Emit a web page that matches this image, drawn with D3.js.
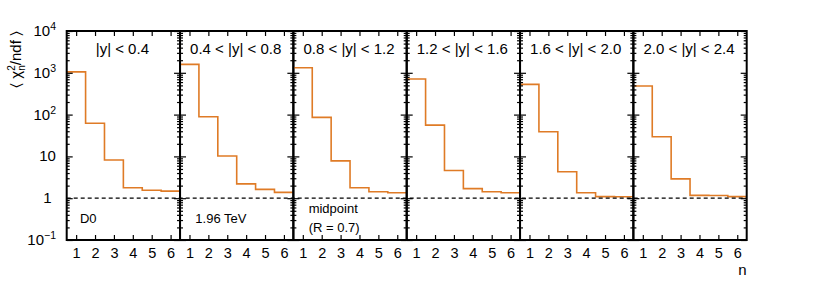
<!DOCTYPE html>
<html>
<head>
<meta charset="utf-8">
<script src="https://cdn.jsdelivr.net/npm/d3@7"></script>
<style>
  body { margin: 0; background: #fff; }
  text { font-family: "Liberation Sans", Arial, Helvetica, sans-serif; fill: #000; }
</style>
</head>
<body>
<div id="chart"></div>
<script>
// rapidity bins and mean chi2/ndf per n
const panelLabels = ["|y| < 0.4", "0.4 < |y| < 0.8", "0.8 < |y| < 1.2",
                     "1.2 < |y| < 1.6", "1.6 < |y| < 2.0", "2.0 < |y| < 2.4"];
const nValues = [1, 2, 3, 4, 5, 6];
const chiY04 = [1050, 62, 8.2, 1.78, 1.55, 1.48];
const chiY08 = [1590, 89, 10.2, 2.2, 1.63, 1.38];
const chiY12 = [1320, 86, 7.8, 1.78, 1.43, 1.35];
const chiY16 = [710, 56, 4.6, 1.69, 1.43, 1.35];
const chiY20 = [530, 39, 4.3, 1.35, 1.09, 1.08];
const chiY24 = [483, 29.6, 2.9, 1.17, 1.16, 1.09];
const series = [chiY04, chiY08, chiY12, chiY16, chiY20, chiY24];
const yMajor = [0.1, 1, 10, 100, 1000, 10000];

const W = 830, H = 284;
const margin = { top: 31, left: 66.7, right: 83.3, bottom: 44 };
const plotW = W - margin.left - margin.right;
const plotH = H - margin.top - margin.bottom;
const panelW = plotW / panelLabels.length;
const orange = "#df7b26";

const svg = d3.select("#chart").append("svg")
    .attr("width", W).attr("height", H);

const y = d3.scaleLog().domain([0.1, 1e4]).range([margin.top + plotH, margin.top]);

// minor ticks 2..9 per decade
const yMinor = [];
for (let d = 0.1; d < 1e4; d *= 10) {
    for (let k = 2; k <= 9; k++) yMinor.push(+(d * k).toPrecision(3));
}

const line = d3.line().curve(d3.curveStepAfter);

panelLabels.forEach((label, i) => {
    const x0 = margin.left + i * panelW;
    const x = d3.scaleLinear().domain([0.5, 6.5]).range([x0, x0 + panelW]);
    const g = svg.append("g");

    // histogram
    const vals = series[i];
    const pts = vals.map((v, j) => [x(nValues[j] - 0.5), y(v)]);
    pts.push([x(6.5), y(vals[vals.length - 1])]);
    g.append("path")
        .attr("d", line(pts))
        .attr("fill", "none")
        .attr("stroke", orange)
        .attr("stroke-width", 1.6);

    // y axes, left and right, ticks inward
    [[d3.axisRight, x0], [d3.axisLeft, x0 + panelW]].forEach(([ax, px]) => {
        g.append("g").attr("transform", `translate(${px},0)`)
            .call(ax(y).tickValues(yMinor).tickSize(3).tickFormat(""))
            .call(s => s.select(".domain").remove())
            .selectAll("line").attr("stroke-width", 1.2);
        g.append("g").attr("transform", `translate(${px},0)`)
            .call(ax(y).tickValues(yMajor).tickSize(6).tickFormat(""))
            .call(s => s.select(".domain").remove())
            .selectAll("line").attr("stroke-width", 1.2);
    });

    // x axes bottom and top, ticks inward
    g.append("g").attr("transform", `translate(0,${margin.top + plotH})`)
        .call(d3.axisBottom(x).tickValues(nValues).tickFormat(d3.format("d"))
            .tickSizeInner(-5).tickSizeOuter(0).tickPadding(8))
        .call(s => s.select(".domain").remove())
        .call(s => s.selectAll("line").attr("stroke-width", 1.2))
        .call(s => s.selectAll("text").attr("font-size", 14.5)
            .attr("font-family", "Liberation Sans, Arial, sans-serif"));
    g.append("g").attr("transform", `translate(0,${margin.top})`)
        .call(d3.axisTop(x).tickValues(nValues).tickSizeInner(-5).tickSizeOuter(0).tickFormat(""))
        .call(s => s.select(".domain").remove())
        .selectAll("line").attr("stroke-width", 1.2);

    // frame
    g.append("rect")
        .attr("x", x0).attr("y", margin.top)
        .attr("width", panelW).attr("height", plotH)
        .attr("fill", "none").attr("stroke", "#000").attr("stroke-width", 2);

    // panel title
    g.append("text")
        .attr("x", x0 + panelW / 2 - 1).attr("y", 53.5)
        .attr("text-anchor", "middle").attr("font-size", 15)
        .text(label);
});

// reference line at 1
svg.append("line")
    .attr("x1", margin.left).attr("x2", margin.left + plotW)
    .attr("y1", y(1)).attr("y2", y(1))
    .attr("stroke", "#000").attr("stroke-width", 1.2)
    .attr("stroke-dasharray", "4,3");

// y tick labels
const yLab = svg.append("g").attr("font-size", 15);
yMajor.forEach(v => {
    const e = Math.round(Math.log10(v));
    const t = yLab.append("text").attr("y", y(v) + 5);
    if (e === 0 || e === 1) {
        t.attr("x", 47.5).attr("text-anchor", "middle").text(e === 0 ? "1" : "10");
    } else {
        t.attr("x", 56).attr("text-anchor", "end");
        t.append("tspan").text("10");
        t.append("tspan").attr("dy", -6).attr("font-size", 10.5)
            .text(e < 0 ? "\u2212" + Math.abs(e) : e);
    }
});

// annotations
const xa = d3.scaleLinear().domain([0.5, 6.5]).range([0, panelW]);
const notes = [
    { p: 0, n: 1.2, v: 0.255, t: "D0" },
    { p: 1, n: 1.31, v: 0.255, t: "1.96 TeV" },
    { p: 2, n: 1.31, v: 0.443, t: "midpoint" },
    { p: 2, n: 1.31, v: 0.155, t: "(R = 0.7)" }
];
notes.forEach(d => {
    svg.append("text")
        .attr("x", margin.left + d.p * panelW + xa(d.n))
        .attr("y", y(d.v))
        .attr("font-size", 13)
        .text(d.t);
});

// axis titles
svg.append("text")
    .attr("x", margin.left + plotW).attr("y", 275)
    .attr("text-anchor", "end").attr("font-size", 15)
    .text("n");

const yt = svg.append("text")
    .attr("transform", `translate(21,${margin.top}) rotate(-90)`)
    .attr("text-anchor", "end").attr("font-size", 15);
yt.append("tspan").text("\u2329 \u03c7");
yt.append("tspan").attr("font-size", 10).attr("dy", -6).text("2");
yt.append("tspan").attr("font-size", 10).attr("dx", -5.5).attr("dy", 10).text("n");
yt.append("tspan").attr("dy", -4).text("/ndf \u232a");
</script>
</body>
</html>
